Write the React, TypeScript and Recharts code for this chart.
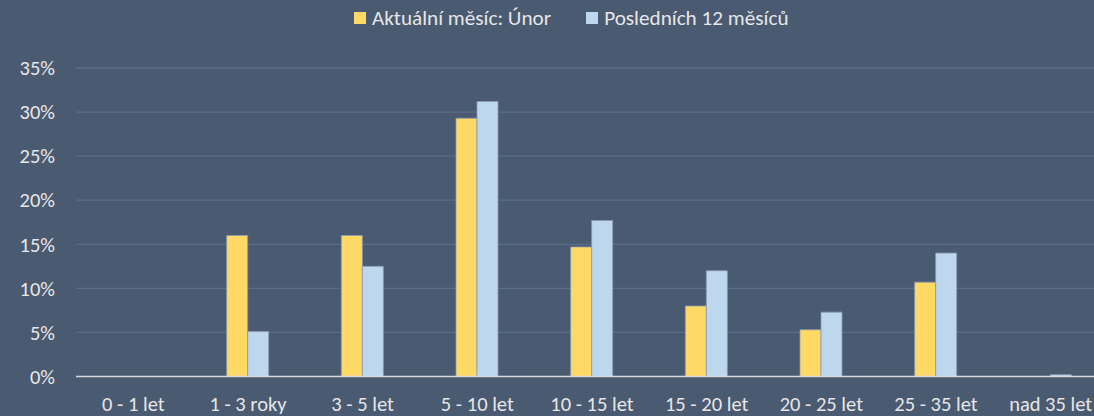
import { Bar, BarChart, CartesianGrid, XAxis, YAxis } from "recharts";

const categories = [
  "0 - 1 let",
  "1 - 3 roky",
  "3 - 5 let",
  "5 - 10 let",
  "10 - 15 let",
  "15 - 20 let",
  "20 - 25 let",
  "25 - 35 let",
  "nad 35 let",
];
const currentMonth = [0, 16.0, 16.0, 29.3, 14.7, 8.0, 5.3, 10.7, 0];
const last12Months = [0, 5.1, 12.5, 31.2, 17.7, 12.0, 7.3, 14.0, 0.2];
const yTicks = [0, 5, 10, 15, 20, 25, 30, 35];

const SERIES = [
  { key: "current", name: "Aktuální měsíc: Únor", color: "#FFD966" },
  { key: "last12", name: "Posledních 12 měsíců", color: "#BDD7EE" },
];

const BG = "#4a5a71";
const TEXT = "#e6e6e6";
const FONT = "Carlito, Lato, sans-serif";
const FS = 20.5;

const data = categories.map((c, i) => ({
  cat: c,
  current: currentMonth[i],
  last12: last12Months[i],
}));

// legend sits above the plot, outside recharts' layout so it doesn't push the grid down
function TopLegend() {
  return (
    <div
      style={{
        position: "absolute",
        top: 5,
        left: 354,
        display: "flex",
        gap: 35,
        fontFamily: FONT,
        fontSize: 21.2,
        color: TEXT,
        whiteSpace: "nowrap",
        lineHeight: "26px",
      }}
    >
      {SERIES.map((s) => (
        <span key={s.key} style={{ display: "flex", alignItems: "center", gap: 6 }}>
          <span style={{ width: 12, height: 12, background: s.color, display: "inline-block" }} />
          {s.name}
        </span>
      ))}
    </div>
  );
}

export default function App() {
  return (
    <div
      style={{
        position: "fixed",
        left: 0,
        top: 0,
        width: 1094,
        height: 416,
        overflow: "hidden",
        background: BG,
      }}
    >
      <TopLegend />
      <BarChart
        width={1108}
        height={416}
        data={data}
        margin={{ top: 68, right: 0, bottom: 0, left: 0 }}
        barGap={0}
        barSize={21}
      >
        <CartesianGrid stroke="#5a6d89" strokeWidth={1.3} vertical={false} />
        <XAxis
          dataKey="cat"
          axisLine={{ stroke: "#d9d9d9", strokeWidth: 1.5 }}
          tickLine={false}
          tickSize={0}
          tickMargin={20}
          height={39.5}
          interval={0}
          tick={{ fill: TEXT, fontSize: FS, fontFamily: FONT }}
        />
        <YAxis
          domain={[0, 35]}
          ticks={yTicks}
          width={76}
          axisLine={false}
          tickLine={false}
          tickSize={0}
          tickMargin={21}
          tickFormatter={(v: number) => `${v}%`}
          tick={{ fill: TEXT, fontSize: FS, fontFamily: FONT }}
        />
        {SERIES.map((s) => (
          <Bar
            key={s.key}
            dataKey={s.key}
            name={s.name}
            fill={s.color}
            stroke="#8d9bb0"
            strokeWidth={0.8}
            isAnimationActive={false}
          />
        ))}
      </BarChart>
    </div>
  );
}
